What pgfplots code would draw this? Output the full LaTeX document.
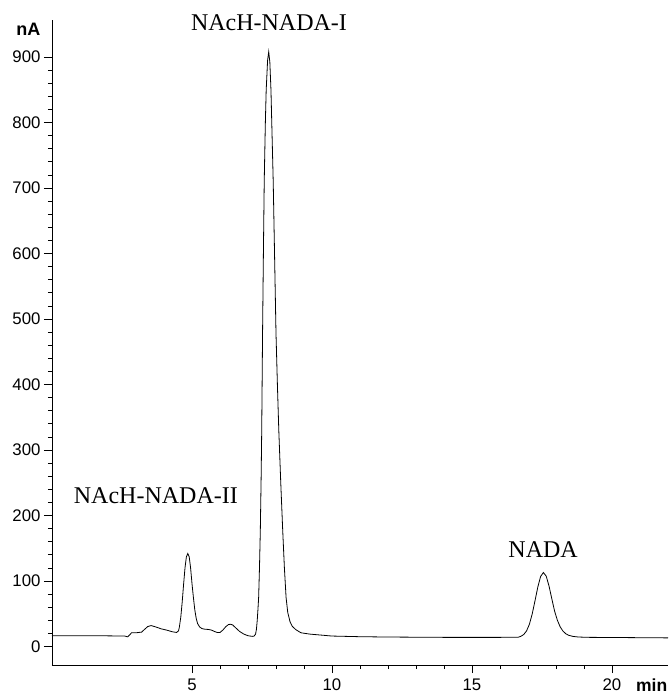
\documentclass[border=0pt]{standalone}
\usepackage{fontspec}
\setmainfont{Liberation Sans}
\newfontfamily\labfont{Liberation Serif}
\usepackage{pgfplots}
\pgfplotsset{compat=1.18}

\begin{document}
\begin{tikzpicture}
\useasboundingbox (-52pt,-29pt) rectangle (620pt,665pt);
\begin{axis}[
  at={(0,0)}, anchor=south west,
  scale only axis, width=616pt, height=645pt,
  xmin=0, xmax=22, ymin=-28.2, ymax=956.5,
  axis x line=bottom, axis y line=left,
  axis line style={-, line width=0.8pt},
  every outer x axis line/.append style={-},
  every outer y axis line/.append style={-},
  xtick={5,10,15,20}, minor x tick num=4,
  ytick={0,100,...,900}, minor y tick num=4,
  tick align=outside,
  major tick length=8pt, minor tick length=4pt,
  tick style={black, line width=0.8pt},
  /pgf/number format/assume math mode=true,
  tick label style={font=\fontsize{16.8}{18}\selectfont},
  xticklabel style={yshift=-2pt},
  clip=false,
]
\addplot[black, line width=0.8pt] coordinates {
  (0,16.5) (1,16.5) (2,16.3) (2.6,16) (2.70,14.8) (2.78,18) (2.84,21)
  (3.0,21) (3.2,22) (3.3,26) (3.42,30.5) (3.54,32) (3.7,30) (3.9,27)
  (4.1,25) (4.3,22.5) (4.45,21.5) (4.52,24)
  (4.55,30) (4.60,45) (4.65,68) (4.70,95) (4.75,120) (4.80,137) (4.85,142)
  (4.90,137) (4.95,120) (5.00,96) (5.05,75) (5.10,56) (5.15,43) (5.20,35)
  (5.27,30) (5.35,27.5) (5.45,26.5) (5.6,26) (5.7,25) (5.8,23) (5.9,21.5)
  (6.0,21.5) (6.1,25) (6.2,30) (6.3,33.5) (6.37,34) (6.45,33) (6.55,29)
  (6.7,23) (6.85,19) (7.0,16.5) (7.15,15.5) (7.22,16) (7.27,19)
  (7.30,26) (7.33,40) (7.36,60) (7.38,75) (7.41,120) (7.44,177) (7.47,260)
  (7.49,330) (7.52,478) (7.55,600) (7.58,711) (7.62,800) (7.65,850)
  (7.70,895) (7.74,908) (7.78,892) (7.82,850) (7.86,780) (7.90,711)
  (7.95,595) (8.00,478) (8.05,400) (8.10,330) (8.17,250) (8.24,177)
  (8.30,120) (8.36,75) (8.42,52) (8.50,38) (8.58,31) (8.7,26) (8.89,21)
  (9.2,19) (9.6,17.5) (10,16) (11,15) (12,14.5) (14,14) (16,14)
  (16.65,14.2) (16.75,15.7) (16.85,18.4) (16.95,24) (17.05,34) (17.15,49.7)
  (17.25,69.8) (17.35,90.7) (17.45,106.9) (17.55,113) (17.65,107.5)
  (17.75,92.5) (17.85,73) (17.95,54) (18.05,40) (18.15,30) (18.25,23.5)
  (18.35,19.5) (18.45,17.2) (18.6,15.5) (18.8,14.5) (19.2,14)
  (20,13.8) (21,13.5) (22,13.2)
};
\node[font=\labfont\fontsize{24}{28}\selectfont] at (axis cs:7.75,953) {NAcH-NADA-I};
\node[font=\labfont\fontsize{24}{28}\selectfont] at (axis cs:3.71,231) {NAcH-NADA-II};
\node[font=\labfont\fontsize{24}{28}\selectfont] at (axis cs:17.54,147.6) {NADA};
\node[font=\bfseries\fontsize{18}{20}\selectfont] at (axis cs:-0.84,942) {nA};
\node[font=\bfseries\fontsize{17.5}{20}\selectfont, anchor=east, inner sep=0pt] at (axis cs:21.98,-59.5) {min};
\end{axis}
\end{tikzpicture}
\end{document}
